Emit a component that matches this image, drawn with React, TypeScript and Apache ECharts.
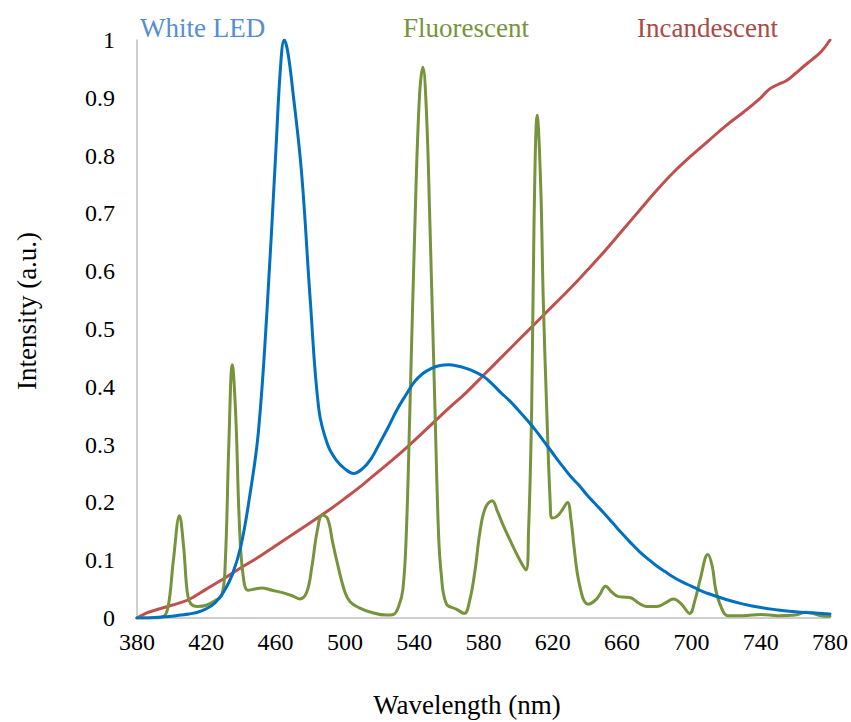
import React, { useEffect, useRef } from "react";
import * as echarts from "echarts";

const xTicks = { min: 380, max: 780, interval: 40 };
const yTicks = { min: 0, max: 1, interval: 0.1 };

const seriesNames = ["White LED", "Fluorescent", "Incandescent"];

// White LED spectrum [wavelength nm, intensity]
const ledData: [number, number][] = [
  [380, 0], [385, 0], [390, 0.001], [395, 0.002], [400, 0.003], [405, 0.005], [410, 0.007],
  [415, 0.01], [420, 0.016], [425, 0.026], [430, 0.045], [435, 0.075], [440, 0.125],
  [445, 0.21], [450, 0.32], [455, 0.53], [460, 0.8], [463, 0.96], [465, 1.0], [467, 0.98],
  [470, 0.91], [475, 0.77], [480, 0.55], [485, 0.36], [490, 0.3], [495, 0.273], [500, 0.258],
  [505, 0.25], [510, 0.258], [515, 0.275], [520, 0.302], [525, 0.33], [530, 0.36],
  [535, 0.385], [540, 0.408], [545, 0.423], [550, 0.432], [555, 0.437], [560, 0.438],
  [565, 0.436], [570, 0.432], [575, 0.426], [580, 0.418], [585, 0.405], [590, 0.39],
  [595, 0.376], [600, 0.36], [605, 0.343], [610, 0.325], [615, 0.305], [620, 0.285],
  [625, 0.265], [630, 0.246], [635, 0.23], [640, 0.212], [645, 0.196], [650, 0.18],
  [655, 0.163], [660, 0.146], [665, 0.13], [670, 0.115], [675, 0.102], [680, 0.09],
  [685, 0.08], [690, 0.07], [695, 0.062], [700, 0.055], [705, 0.048], [710, 0.042],
  [720, 0.032], [730, 0.024], [740, 0.018], [750, 0.014], [760, 0.011], [770, 0.009],
  [780, 0.007],
];

// Fluorescent spectrum [wavelength nm, intensity]
const fluorescentData: [number, number][] = [
  [380, 0], [390, 0], [395, 0.002], [398, 0.02], [401, 0.1], [404.5, 0.177], [407, 0.12],
  [409, 0.045], [411, 0.025], [415, 0.02], [420, 0.022], [425, 0.03], [429, 0.04],
  [431, 0.1], [433, 0.3], [435, 0.438], [437, 0.35], [439, 0.17], [441, 0.08], [444, 0.048],
  [448, 0.05], [452, 0.052], [458, 0.048], [465, 0.043], [470, 0.038], [474, 0.033],
  [478, 0.045], [481, 0.09], [484, 0.15], [487, 0.178], [490, 0.172], [493, 0.13],
  [496, 0.09], [500, 0.045], [503, 0.028], [508, 0.018], [515, 0.01], [524, 0.005],
  [528, 0.006], [531, 0.02], [533.5, 0.05], [535.5, 0.15], [537.5, 0.36], [540.5, 0.69],
  [543, 0.9], [545, 0.953], [547, 0.88], [549, 0.69], [552, 0.36], [554, 0.15],
  [555.5, 0.08], [558.5, 0.025], [564.5, 0.015], [569, 0.008], [572, 0.03], [575, 0.08],
  [578, 0.15], [581, 0.19], [585, 0.203], [588, 0.185], [591, 0.163], [597, 0.124],
  [601, 0.1], [604.5, 0.083], [606, 0.15], [607.8, 0.36], [609.2, 0.69], [611, 0.87],
  [613, 0.75], [614.5, 0.55], [616.5, 0.36], [618.5, 0.2], [619.5, 0.173], [622, 0.175],
  [625, 0.185], [628.5, 0.2], [630.5, 0.17], [632, 0.13], [634, 0.08], [636, 0.05],
  [638, 0.03], [640.5, 0.024], [645, 0.032], [647, 0.04], [650.5, 0.055], [654, 0.045],
  [658, 0.037], [662, 0.036], [665, 0.035], [670, 0.025], [674, 0.02], [680, 0.02],
  [685, 0.026], [689.5, 0.033], [694, 0.025], [699, 0.008], [702, 0.03], [705, 0.066],
  [709.5, 0.11], [712, 0.09], [714, 0.05], [717, 0.02], [721, 0.004], [730, 0.004],
  [740, 0.006], [750, 0.004], [760, 0.005], [766, 0.01], [770, 0.008], [775, 0.004],
  [780, 0.003],
];

// Incandescent spectrum [wavelength nm, intensity]
const incandescentData: [number, number][] = [
  [380, 0], [385, 0.008], [390, 0.013], [400, 0.022], [410, 0.032], [420, 0.05],
  [430, 0.068], [440, 0.087], [450, 0.105], [460, 0.125], [470, 0.145], [480, 0.165],
  [490, 0.185], [500, 0.207], [510, 0.23], [520, 0.255], [530, 0.28], [540, 0.307],
  [550, 0.335], [560, 0.363], [570, 0.39], [580, 0.42], [590, 0.45], [600, 0.48],
  [610, 0.51], [620, 0.54], [630, 0.57], [640, 0.602], [650, 0.635], [660, 0.67],
  [670, 0.705], [680, 0.74], [690, 0.772], [700, 0.8], [710, 0.826], [720, 0.852],
  [730, 0.875], [740, 0.9], [745, 0.915], [750, 0.923], [755, 0.93], [760, 0.942],
  [765, 0.955], [770, 0.967], [775, 0.98], [780, 1.0],
];

const xAxisTitle = "Wavelength (nm)";
const yAxisTitle = "Intensity (a.u.)";

const colors = ["#0070c0", "#77933c", "#c0504d"];
const labelColors = ["#558ed5", "#77933c", "#a94a48"];

export default function App() {
  const ref = useRef<HTMLDivElement>(null);
  useEffect(() => {
    if (!ref.current) return;
    const chart = echarts.init(ref.current, undefined, { renderer: "svg" });
    const font = "'Liberation Serif', 'Times New Roman', serif";
    const lineSeries = (name: string, data: [number, number][], color: string, z: number) => ({
      name,
      type: "line",
      data,
      showSymbol: false,
      symbol: "none",
      smooth: 0.4,
      z,
      lineStyle: { color, width: 3, join: "round", cap: "round" },
    });
    chart.setOption({
      animation: false,
      backgroundColor: "#ffffff",
      grid: { left: 137, right: 21, top: 40, bottom: 104, containLabel: false },
      xAxis: {
        type: "value",
        min: xTicks.min,
        max: xTicks.max,
        interval: xTicks.interval,
        axisLine: { show: true, lineStyle: { color: "#bfbfbf", width: 1.5 } },
        axisTick: { show: false },
        splitLine: { show: false },
        axisLabel: { color: "#000", fontFamily: font, fontSize: 24, margin: 12 },
      },
      yAxis: {
        type: "value",
        min: yTicks.min,
        max: yTicks.max,
        interval: yTicks.interval,
        axisLine: { show: true, lineStyle: { color: "#bfbfbf", width: 1.5 } },
        axisTick: { show: false },
        splitLine: { show: false },
        axisLabel: { color: "#000", fontFamily: font, fontSize: 24, margin: 22 },
      },
      series: [
        lineSeries(seriesNames[2], incandescentData, colors[2], 2),
        lineSeries(seriesNames[1], fluorescentData, colors[1], 3),
        lineSeries(seriesNames[0], ledData, colors[0], 4),
      ],
      graphic: [
        { type: "text", left: 140, top: 14, style: { text: seriesNames[0], fill: labelColors[0], font: `27px ${font}` } },
        { type: "text", left: 403, top: 14, style: { text: seriesNames[1], fill: labelColors[1], font: `27px ${font}` } },
        { type: "text", left: 637, top: 14, style: { text: seriesNames[2], fill: labelColors[2], font: `27px ${font}` } },
        {
          type: "text",
          x: 467,
          y: 705,
          style: { text: xAxisTitle, fill: "#000", font: `27px ${font}`, align: "center", verticalAlign: "middle" },
        },
        {
          type: "text",
          x: 27,
          y: 311,
          rotation: Math.PI / 2,
          style: { text: yAxisTitle, fill: "#000", font: `27px ${font}`, align: "center", verticalAlign: "middle" },
        },
      ],
    });
    return () => chart.dispose();
  }, []);
  return (
    <div
      ref={ref}
      style={{ position: "absolute", left: 0, top: 0, width: 851, height: 722, background: "#fff" }}
    />
  );
}
